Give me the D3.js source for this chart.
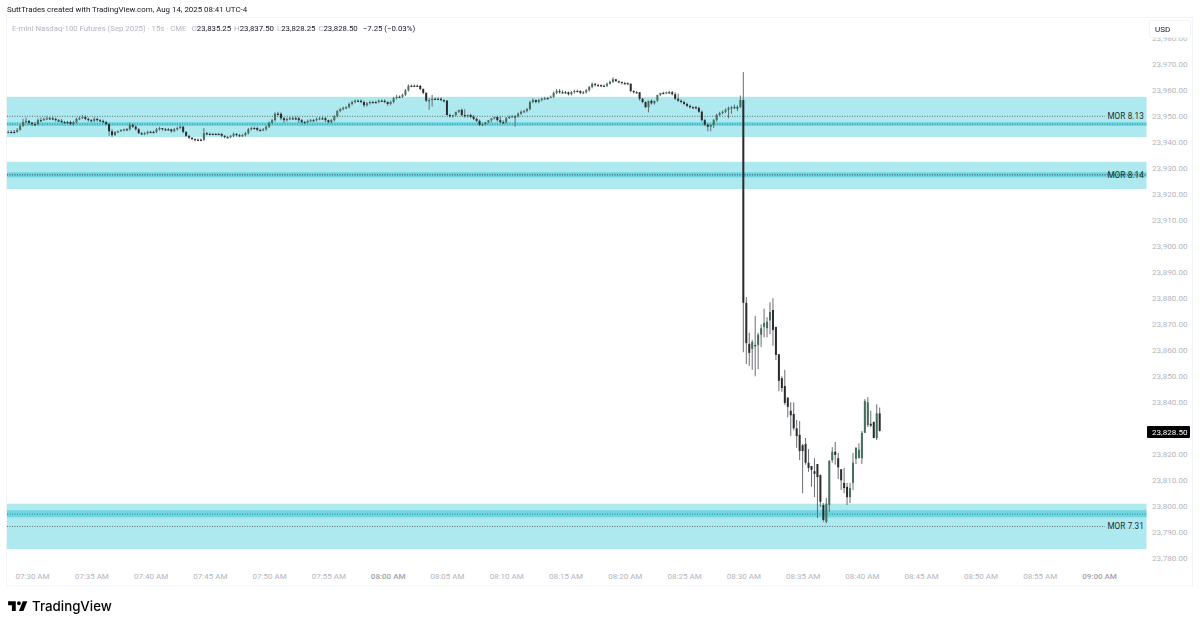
<!DOCTYPE html>
<html><head><meta charset="utf-8">
<script src="https://cdn.jsdelivr.net/npm/d3@7"></script>
<style>
html,body{margin:0;padding:0;background:#fff;}
svg{display:block;font-family:Roboto,"Liberation Sans",sans-serif;filter:blur(0.3px);}
</style></head><body>
<svg id="c" width="1200" height="626"></svg>
<script>
const timeLabels=["07:30 AM","07:35 AM","07:40 AM","07:45 AM","07:50 AM","07:55 AM","08:00 AM","08:05 AM","08:10 AM","08:15 AM","08:20 AM","08:25 AM","08:30 AM","08:35 AM","08:40 AM","08:45 AM","08:50 AM","08:55 AM","09:00 AM"];
const barsPerLabel=20, firstBar=-8;
const priceTicks=[23780,23790,23800,23810,23820,23830,23840,23850,23860,23870,23880,23890,23900,23910,23920,23930,23940,23950,23960,23970,23980];
const zones=[{name:"MOR 8.13",top:23957,bottom:23941.5,band:[23947.25,23945.75],teal:23946.5,gray:23949.5},
{name:"MOR 8.14",top:23932,bottom:23921.5,band:[23928,23926],teal:23927,gray:23927},
{name:"MOR 7.31",top:23800.5,bottom:23783,band:[23798,23795.25],teal:23796.5,gray:23791.75}];
const lastPrice=23828.5;
const closes=[23943.5,23943.5,23943.5,23944.25,23945.75,23947.25,23947.75,23947,23946.5,23946.5,
23948,23948,23948.5,23948.75,23948.75,23948.5,23948,23947.75,23947.25,23947.25,
23947.25,23946.5,23947.25,23948.5,23948.75,23949.25,23948.5,23948,23947.75,23948.5,
23948,23947.75,23947.25,23946.5,23943.75,23942.25,23943.5,23943.75,23944.25,23944.5,
23944.5,23946.25,23945.5,23944.5,23943,23942.75,23943,23943.5,23943.5,23943.5,
23944.5,23945,23944.5,23944.5,23944.5,23943.75,23944.5,23945,23945.5,23943.5,
23942,23941.25,23940.75,23940.5,23940.5,23940.5,23943,23942.75,23942.75,23942.75,
23942.75,23942.75,23942,23941.5,23941.5,23942,23942.75,23942.25,23942,23942.25,
23943,23944.5,23945,23945,23944.25,23944.25,23944.5,23945.5,23947,23948,
23950.5,23950.5,23948.75,23948,23948.5,23948.75,23948.75,23948.75,23948,23947.25,
23947.25,23947.75,23948,23948,23948.5,23948.75,23948.75,23948,23947.25,23948,
23949.5,23951.5,23952.25,23952.75,23953,23954.25,23955,23955.5,23955.5,23955,
23953.75,23954.5,23955,23955,23955,23955.5,23955.5,23955,23954.25,23955,
23956.5,23957,23957,23957.75,23959.5,23961.25,23961.25,23961.25,23961.25,23960,
23958.5,23955.5,23955.75,23956.25,23956.25,23956.25,23955.75,23955.5,23950,23949.5,
23950,23951.25,23952,23950,23949.5,23950,23949.25,23948.5,23947.75,23946.25,
23946.5,23947.25,23948,23948.75,23949.25,23948,23947.25,23947.25,23948.75,23949.25,
23949.5,23949.5,23950.5,23951.25,23951.5,23952.25,23955,23955.75,23955,23955.75,
23956.25,23956.5,23956.5,23957,23958.5,23959.25,23958.75,23958.75,23958.75,23958,
23958.75,23959.25,23959.25,23958.5,23958.75,23959.5,23960.75,23962,23961.5,23961.5,
23961.25,23961.25,23962,23962.75,23963.75,23963,23962.75,23962.25,23962.25,23962,
23959.25,23958.75,23958.75,23956.25,23955,23953,23955.5,23954.5,23955.5,23957.75,
23958.5,23958.5,23958.75,23958.75,23958,23956.25,23955.5,23955,23954.25,23953.5,
23953,23953,23952.75,23951.25,23948,23946.25,23945.5,23946.25,23948,23950,
23950.75,23951.25,23952,23952.75,23953,23953,23953,23955.75,
23877.75,23862.25,23858.5,23862.75,23861.25,23865.5,23868,23870,23870.5,23874.25,
23867.25,23857.75,23847.75,23845,23839.25,23837.75,23834.5,23829.5,23826.5,23820.75,
23820.75,23816.25,23814.25,23813.5,23812,23810.75,23801.25,23794.25,23800.5,23817,
23820.5,23819.25,23814.5,23809.5,23806.5,23803,23806.5,23816.25,23822,23821.25,
23827.75,23840,23839.5,23830.5,23825.75,23835.25,23828.5];
const opens=[23943.25,23943.5,23943.5,23943.5,23944.25,23945.75,23947.25,23947.75,23947,23946.5,
23946.5,23948,23948,23948.5,23948.75,23948.75,23948.5,23948,23947.75,23947.25,
23947.25,23947.25,23946.5,23947.25,23948.5,23948.75,23949.25,23948.5,23948,23947.75,
23948.5,23948,23947.75,23947.25,23946.5,23943.75,23942.25,23943.5,23943.75,23944.25,
23944.5,23944.5,23946.25,23945.5,23944.5,23943,23942.75,23943,23943.5,23943.5,
23943.5,23944.5,23945,23944.5,23944.5,23944.5,23943.75,23944.5,23945,23945.5,
23943.5,23942,23941.25,23940.75,23940.5,23940.5,23940.5,23943,23942.75,23942.75,
23942.75,23942.75,23942.75,23942,23941.5,23941.5,23942,23942.75,23942.25,23942,
23942.25,23943,23944.5,23945,23945,23944.25,23944.25,23944.5,23945.5,23947,
23948,23950.5,23950.5,23948.75,23948,23948.5,23948.75,23948.75,23948.75,23948,
23947.25,23947.25,23947.75,23948,23948,23948.5,23948.75,23948.75,23948,23947.25,
23948,23949.5,23951.5,23952.25,23952.75,23953,23954.25,23955,23955.5,23955.5,
23955,23953.75,23954.5,23955,23955,23955,23955.5,23955.5,23955,23954.25,
23955,23956.5,23957,23957,23957.75,23959.5,23961.25,23961.25,23961.25,23961.25,
23960,23958.5,23955.5,23955.75,23956.25,23956.25,23956.25,23955.75,23955.5,23950,
23949.5,23950,23951.25,23952,23950,23949.5,23950,23949.25,23948.5,23947.75,
23946.25,23946.5,23947.25,23948,23948.75,23949.25,23948,23947.25,23947.25,23948.75,
23949.25,23949.5,23949.5,23950.5,23951.25,23951.5,23952.25,23955,23955.75,23955,
23955.75,23956.25,23956.5,23956.5,23957,23958.5,23959.25,23958.75,23958.75,23958.75,
23958,23958.75,23959.25,23959.25,23958.5,23958.75,23959.5,23960.75,23962,23961.5,
23961.5,23961.25,23961.25,23962,23962.75,23963.75,23963,23962.75,23962.25,23962.25,
23962,23959.25,23958.75,23958.75,23956.25,23955,23953,23955.5,23954.5,23955.5,
23957.75,23958.5,23958.5,23958.75,23958.75,23958,23956.25,23955.5,23955,23954.25,
23953.5,23953,23953,23952.75,23951.25,23948,23946.25,23945.5,23946.25,23948,
23950,23950.75,23951.25,23952,23952.75,23953,23953,23953,
23955.75,23877.75,23862,23860,23861.5,23861.5,23865.5,23868.5,23868,23871,
23875,23868.5,23858,23848.75,23845.75,23841.25,23836.25,23835,23829.5,23827,
23823,23823.5,23816.25,23815,23813,23815.75,23811.5,23800,23793.5,23800,
23817.25,23820.5,23818,23813.75,23808.5,23807,23803,23808.5,23817.75,23818,
23818,23827.75,23830.75,23831.25,23832,23825.75,23835.25];
const highs=[23944,23944,23944.25,23945,23946.5,23948.5,23949,23948,23947.25,23947.25,
23948.75,23949,23949,23949.5,23949.25,23949.25,23949,23948.5,23948.5,23947.75,
23947.75,23947.75,23947.75,23949,23949.5,23950,23949.75,23949,23948.5,23949.25,
23949,23948.5,23948.25,23947.75,23947,23944.5,23943.75,23944,23944.5,23944.75,
23945,23947,23946.75,23946,23945,23943.5,23943.5,23944,23944,23944,
23945,23945.5,23945,23945,23945,23944.75,23945,23945.5,23946,23945.75,
23943.75,23942.25,23941.5,23941,23941,23941,23945,23943.5,23943.25,23943,
23943,23943,23943,23942.25,23942,23942.25,23943.25,23943,23942.75,23942.75,
23943.5,23945,23945.5,23945.5,23945.5,23944.75,23945,23946,23947.5,23948.5,
23951,23951.25,23951,23949.25,23949,23949.25,23949.25,23949.5,23949.25,23948.5,
23947.75,23948.25,23948.5,23948.5,23949,23949.25,23949.25,23949.25,23948.25,23948.5,
23950,23952,23952.75,23953.25,23953.5,23954.75,23955.5,23956,23956,23956,
23955.5,23955,23955.5,23955.5,23955.5,23956,23956,23956,23955.25,23955.5,
23957,23957.75,23957.5,23958.25,23960,23961.75,23961.75,23961.75,23961.75,23961.5,
23960.25,23958.75,23956.5,23957.75,23956.75,23956.75,23956.75,23956,23955.75,23950.5,
23950,23950.5,23951.75,23952.5,23952.25,23950.25,23950.5,23950,23949,23948.25,
23947,23947,23948,23948.5,23949.25,23949.75,23949.5,23948,23949.25,23949.75,
23950,23950,23951,23951.75,23952,23952.75,23955.5,23956.5,23956,23956.25,
23956.75,23957,23957,23957.5,23959,23960,23960,23959.5,23959.25,23959,
23959.25,23959.75,23959.75,23959.5,23959.25,23960,23961.25,23962.5,23962.25,23962,
23961.75,23961.75,23962.5,23963.25,23964.5,23963.75,23963.25,23962.75,23962.75,23962.5,
23962.25,23959.5,23959.25,23958.75,23956.5,23955.25,23953.5,23956,23955.25,23956,
23958.5,23959,23959,23959.25,23959.25,23958.75,23958.25,23956,23955.5,23954.75,
23954,23953.5,23953.5,23953.25,23951.75,23948.5,23946.75,23946.5,23948.5,23950.5,
23951.25,23951.75,23952.5,23953.25,23953.5,23954,23953.75,23957.5,
23966.5,23880,23866.25,23863.5,23872.75,23866.25,23869.5,23875.5,23872.25,23878,
23879.5,23868.5,23858,23849.5,23852,23841.5,23839.5,23839.5,23832.75,23832.25,
23823.5,23825.75,23821.5,23815,23818,23815.75,23811.75,23800.75,23802.75,23817.25,
23822.25,23824.25,23820,23813.75,23814.25,23808.5,23808.5,23820,23822.25,23823.75,
23828.5,23840.75,23841.5,23836.25,23832,23838.75,23837.5];
const lows=[23943,23943,23943,23943.25,23944,23945.5,23946.75,23946.25,23945.75,23945.75,
23946,23947.5,23947.75,23948,23948.25,23948,23947.5,23947.25,23946.75,23946.75,
23946.75,23946,23946,23946.75,23948,23948.5,23948,23947.5,23947.25,23947.25,
23947.5,23947.25,23946.75,23946,23942,23941.5,23942,23943,23943.5,23943.75,
23944,23944,23945,23944,23942.75,23942.25,23942.25,23942.5,23943,23943,
23943,23944,23944,23944,23944,23943.25,23943.5,23944,23944.5,23943,
23941.5,23940.75,23940.25,23940,23940,23940,23940,23942.25,23942.25,23942.25,
23942.25,23942.25,23941.5,23941,23941,23941,23941.5,23941.75,23941.5,23941.5,
23941.75,23942.5,23944,23944.5,23943.75,23943.75,23943.75,23944,23945,23946.5,
23947.5,23949.75,23948,23947,23947.5,23948,23948.25,23948,23947,23946.75,
23946.75,23946.75,23947.25,23947.5,23947.5,23948,23948.25,23947.25,23946.75,23946.75,
23947.5,23949,23951,23951.75,23952.25,23952.5,23953.75,23954.5,23955,23954.5,
23953,23953.25,23954,23954.5,23954.5,23954.5,23955,23954.5,23953.5,23953.75,
23954.5,23956,23956.5,23956.5,23957.25,23959,23960.75,23960.75,23960.75,23959.5,
23958,23955,23952,23953.25,23955.75,23955.75,23955.25,23954.75,23949.75,23949,
23949,23949.5,23950.75,23949.5,23949,23949,23948.75,23948,23947.25,23945.75,
23945.75,23946,23946.75,23947.25,23948.25,23947.5,23946.75,23946.5,23946.75,23948.5,
23949,23945.5,23949,23950,23950.75,23951,23951.75,23954.5,23954.5,23954.5,
23955.25,23955.75,23956,23956.5,23956.5,23958,23958.25,23958.25,23958.25,23957.5,
23957.5,23958.25,23958.75,23958,23958,23958.25,23959,23960.25,23961,23961,
23960.75,23960.75,23960.75,23961.75,23962.25,23962.75,23962.25,23961.75,23961.75,23961.5,
23958.75,23958.25,23958.25,23955.5,23954.5,23952.75,23951,23954,23954,23955,
23957.25,23958,23958,23958.25,23957.5,23955.75,23955,23954.5,23953.75,23953,
23952.5,23952.5,23952.25,23950.75,23947.5,23945.75,23943.75,23943.75,23945,23947.5,
23949.5,23950.25,23950.75,23948.75,23950.5,23952.5,23951.5,23952.75,
23858.75,23854.25,23853.5,23852,23849.5,23852.25,23860.75,23864.5,23864.5,23865.75,
23861.25,23855.75,23843.75,23843.5,23838.5,23833.75,23826.5,23828.75,23822,23817.25,
23804.5,23815.5,23812.75,23807,23803,23795,23799.25,23793.5,23793,23797.25,
23816.25,23815.5,23810,23805.75,23804.5,23800,23800.75,23805.75,23815.75,23818,
23815.75,23827.75,23830,23830,23825.75,23825,23828.25];

const svg=d3.select("#c");
const gridColor="#f0f3fa", muted="#b2b5be", ink="#131722";
const x=d3.scaleLinear().domain([0,(timeLabels.length-1)*barsPerLabel]).range([32,1099]);
const y=d3.scaleLinear().domain([23780,23970]).range([557,63]);
const plotL=7,plotR=1146.5;

svg.append("rect").attr("x",6.5).attr("y",17.5).attr("width",1186).attr("height",568.5)
 .attr("fill","#fff").attr("stroke",gridColor);

// zones
const zg=svg.append("g");
zones.forEach(z=>{
 zg.append("rect").attr("x",plotL).attr("width",plotR-plotL).attr("y",y(z.top)).attr("height",y(z.bottom)-y(z.top)).attr("fill","#aee9f0");
 zg.append("rect").attr("x",plotL).attr("width",plotR-plotL).attr("y",y(z.band[0])).attr("height",y(z.band[1])-y(z.band[0])).attr("fill","#72d5df");
 zg.append("line").attr("x1",plotL).attr("x2",plotR).attr("y1",y(z.teal)).attr("y2",y(z.teal)).attr("stroke","#1a8d9b").attr("stroke-width",1).attr("stroke-dasharray","1 1.5");
 zg.append("line").attr("x1",plotL).attr("x2",z.teal===z.gray?plotR:1105).attr("y1",y(z.gray)).attr("y2",y(z.gray)).attr("stroke","#555d66").attr("stroke-width",0.9).attr("stroke-dasharray","1 1.5");
});

// candles
const bars=closes.map((c,i)=>({i:i+firstBar,o:opens[i],h:highs[i],l:lows[i],c}));
const cg=svg.append("g");
cg.selectAll("line").data(bars).join("line")
 .attr("x1",d=>x(d.i)).attr("x2",d=>x(d.i)).attr("y1",d=>y(d.h)).attr("y2",d=>y(d.l))
 .attr("stroke","#6a6d72").attr("stroke-width",1);
cg.selectAll("rect").data(bars).join("rect")
 .attr("x",d=>x(d.i)-1).attr("width",2)
 .attr("y",d=>y(Math.max(d.o,d.c)))
 .attr("height",d=>Math.max(1.2,Math.abs(y(d.o)-y(d.c))))
 .attr("fill",d=>d.c>d.o?"#456f5c":"#2a2b2e");

// zone labels
zones.forEach(z=>{
 svg.append("text").attr("x",1144).attr("y",y(z.gray)+3).attr("text-anchor","end").attr("font-size",8.2).attr("letter-spacing",0.1).attr("fill","#1f2d33").text(z.name);
});

// price axis
const priceG=svg.append("g").attr("transform","translate(1147,0.5)").call(d3.axisRight(y).tickValues(priceTicks).tickSize(0).tickPadding(5).tickFormat(d3.format(",.2f")));
priceG.select(".domain").remove();
priceG.selectAll("text").attr("fill",muted).attr("font-size",8.1).attr("font-family","Roboto,sans-serif");

// time axis
const timeG=svg.append("g").attr("transform","translate(0,573.5)").call(d3.axisBottom(x).tickValues(timeLabels.map((t,i)=>i*barsPerLabel)).tickSize(0).tickPadding(0).tickFormat((d,i)=>timeLabels[i]));
timeG.select(".domain").remove();
timeG.selectAll("text").attr("fill",(d,i)=>timeLabels[i].endsWith(":00 AM")?"#a0a3ab":muted).attr("font-weight",(d,i)=>timeLabels[i].endsWith(":00 AM")?500:400).attr("font-size",8).attr("font-family","Roboto,sans-serif");

// USD box
svg.append("rect").attr("x",1149.5).attr("y",20.5).attr("width",41).attr("height",17).attr("rx",2).attr("fill","#fff").attr("stroke",gridColor);
svg.append("text").attr("x",1155).attr("y",32).attr("font-size",8).attr("fill",ink).text("USD");

// last price tag
svg.append("rect").attr("x",1147).attr("y",y(lastPrice)-5).attr("width",43).attr("height",12).attr("rx",1).attr("fill","#000");
svg.append("text").attr("x",1152).attr("y",y(lastPrice)+4).attr("font-size",8.1).attr("fill","#fff").text(d3.format(",.2f")(lastPrice));

// header
svg.append("text").attr("x",7).attr("y",12).attr("font-size",7.9).attr("fill",ink).text("SuttTrades created with TradingView.com, Aug 14, 2025 08:41 UTC-4");
const leg=svg.append("text").attr("x",12).attr("y",30.5).attr("font-size",7.8).attr("fill",muted);
leg.append("tspan").text("E-mini Nasdaq-100 Futures (Sep 2025) · 15s · CME  ");
[["O","23,835.25"],["H","23,837.50"],["L","23,828.25"],["C","23,828.50"]].forEach(([k,v])=>{
 leg.append("tspan").attr("dx",3).text(k);
 leg.append("tspan").attr("fill",ink).text(v);
});
leg.append("tspan").attr("dx",5).attr("fill",ink).text("−7.25 (−0.03%)");

// logo
const logo=svg.append("g").attr("transform","translate(6.8,597.5) scale(0.64)");
logo.append("path").attr("fill","#000").attr("d","M14 6H2v6h6v9h6V6zm12 15h-7l6-15h7l-6 15zm-7-9a3 3 0 1 0 0-6 3 3 0 0 0 0 6z");
svg.append("text").attr("x",32).attr("y",611).attr("font-size",13.3).attr("font-weight",500).attr("fill","#000").attr("font-family","Inter,Roboto,sans-serif").text("TradingView");
</script>
</body></html>
